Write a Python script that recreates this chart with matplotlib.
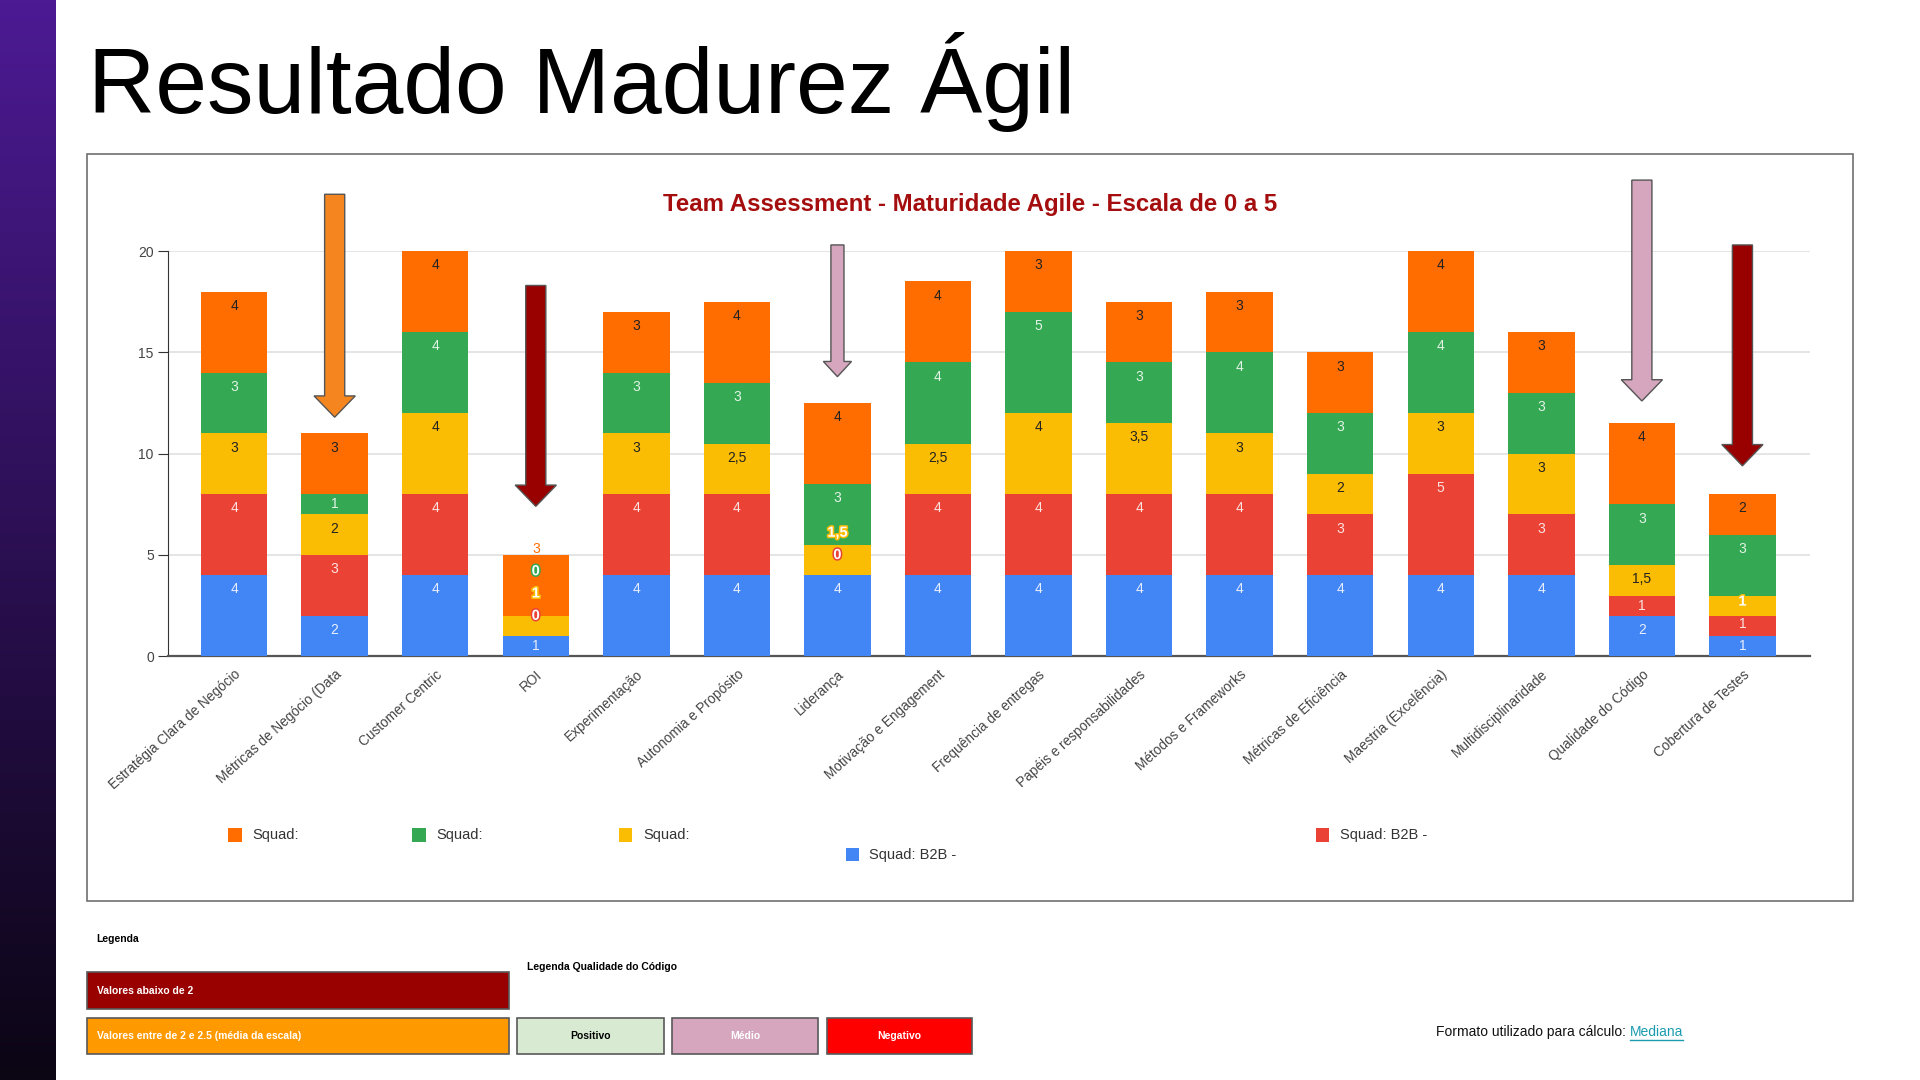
import numpy as np
import matplotlib
matplotlib.use("Agg")
import matplotlib.pyplot as plt
import matplotlib.patheffects as pe
from matplotlib.patches import Rectangle, FancyArrow

plt.rcParams['font.family'] = ['Liberation Sans', 'DejaVu Sans']

# ---- data ----
categories = ["Estratégia Clara de Negócio", "Métricas de Negócio (Data", "Customer Centric", "ROI",
              "Experimentação", "Autonomia e Propósito", "Liderança", "Motivação e Engagement",
              "Frequência de entregas", "Papéis e responsabilidades", "Métodos e Frameworks",
              "Métricas de Eficiência", "Maestria (Excelência)", "Multidisciplinaridade",
              "Qualidade do Código", "Cobertura de Testes"]

blue_vals = [4, 2, 4, 1, 4, 4, 4, 4, 4, 4, 4, 4, 4, 4, 2, 1]
red_vals = [4, 3, 4, 0, 4, 4, 0, 4, 4, 4, 4, 3, 5, 3, 1, 1]
yellow_vals = [3, 2, 4, 1, 3, 2.5, 1.5, 2.5, 4, 3.5, 3, 2, 3, 3, 1.5, 1]
green_vals = [3, 1, 4, 0, 3, 3, 3, 4, 5, 3, 4, 3, 4, 3, 3, 3]
orange_vals = [4, 3, 4, 3, 3, 4, 4, 4, 3, 3, 3, 3, 4, 3, 4, 2]

# stacking order bottom -> top
series = [
    ("Squad: B2B -", blue_vals, "#4285f4", "#e8eefc"),
    ("Squad: B2B -", red_vals, "#ea4335", "#fbe3e1"),
    ("Squad:", yellow_vals, "#fbbc04", "#222222"),
    ("Squad:", green_vals, "#34a853", "#e3f3e7"),
    ("Squad:", orange_vals, "#ff6d01", "#222222"),
]

# arrows over bars (bar index, top value, tip value, colour)
arrow_bars = [1, 3, 6, 14, 15]
arrow_tops = [22.8, 18.3, 20.3, 23.5, 20.3]
arrow_tips = [11.8, 7.4, 13.8, 12.6, 9.4]
arrow_colors = ["#f5861f", "#990000", "#d5a6bd", "#d5a6bd", "#990000"]

W, H = 1568.0, 882.0


def fx(x):
    return x / W


def fy(y):
    return 1 - y / H


fig = plt.figure(figsize=(19.2, 10.8), dpi=100)
fig.patch.set_facecolor("white")

# left gradient strip
strip = fig.add_axes([0, 0, fx(45), 1])
grad = np.linspace(0, 1, 256).reshape(-1, 1)
c_top = np.array([0x4c, 0x1a, 0x93]) / 255
c_bot = np.array([0x0b, 0x05, 0x14]) / 255
img = c_top[None, None, :] * (1 - grad[:, :, None]) + c_bot[None, None, :] * grad[:, :, None]
strip.imshow(img, aspect="auto", extent=[0, 1, 0, 1])
strip.axis("off")

# slide title
fig.text(fx(72), fy(92), "Resultado Madurez Ágil", fontsize=67, color="black", ha="left", va="baseline")

# chart frame
fig.patches.append(Rectangle((fx(71), fy(736)), fx(1513) - fx(71), fy(126) - fy(736),
                             transform=fig.transFigure, facecolor="white", edgecolor="#707070", lw=1.2,
                             zorder=-5))

ax = fig.add_axes([fx(137), fy(536), fx(1478) - fx(137), fy(205) - fy(536)])
ax.set_zorder(2)
ax.set_facecolor("none")
x = np.arange(len(categories))
totals = np.sum([s[1] for s in series], axis=0)
bottom = np.zeros(len(categories))
label_y_prev = np.full(len(categories), -10.0)
gap = 1.1
for name, vals, color, tcolor in series:
    vals = np.array(vals, dtype=float)
    ax.bar(x, vals, bottom=bottom, width=0.66, color=color, zorder=3, linewidth=0)
    tops = bottom + vals
    for i, v in enumerate(vals):
        # google-style label near top of segment, pushed up when labels collide
        ideal = tops[i] + 1.0 if v == 0 else tops[i] - min(0.7, v / 2)
        ypos = max(ideal, label_y_prev[i] + gap)
        txt = f"{v:g}".replace(".", ",")
        if ypos > totals[i]:
            ax.text(x[i], ypos, txt, ha="center", va="center", fontsize=10, color=color,
                    zorder=5, clip_on=False)
        elif v == 0 or ypos > ideal + 0.15:
            ax.text(x[i], ypos, txt, ha="center", va="center", fontsize=10.5, color="white",
                    fontweight="bold", zorder=5, clip_on=False,
                    path_effects=[pe.withStroke(linewidth=2.2, foreground=color)])
        else:
            ax.text(x[i], ypos, txt, ha="center", va="center", fontsize=10, color=tcolor, zorder=5)
        label_y_prev[i] = ypos
    bottom = tops

ax.set_xlim(-0.66, 15.67)
ax.set_ylim(0, 20)
ax.set_yticks([0, 5, 10, 15, 20])
ax.yaxis.grid(True, color="#e0e0e0", lw=1.2, zorder=0)
ax.set_axisbelow(True)
for s in ["top", "right"]:
    ax.spines[s].set_visible(False)
ax.spines["left"].set_color("#333333")
ax.spines["bottom"].set_color("#555555")
ax.spines["bottom"].set_linewidth(1.6)
ax.tick_params(axis="y", length=7, color="#333333", labelsize=10, labelcolor="#444444", pad=3)
ax.tick_params(axis="x", length=0, pad=8)
ax.set_xticks(x)
ax.set_xticklabels(categories, rotation=42, ha="right", va="top", rotation_mode="anchor",
                   fontsize=9.8, color="#444444")

# chart title
fig.text(fx(792), fy(167), "Team Assessment - Maturidade Agile - Escala de 0 a 5",
         ha="center", va="center", fontsize=17.3, fontweight="bold", color="#a50e0e")

# arrows
for b, top, tip, col in zip(arrow_bars, arrow_tops, arrow_tips, arrow_colors):
    thin = b == 6
    w = 0.13 if thin else 0.2
    hw = 0.28 if thin else 0.41
    hl = 0.75 if thin else 1.05
    ax.add_patch(FancyArrow(b, top, 0, tip - top, width=w, head_width=hw, head_length=hl,
                            length_includes_head=True, facecolor=col, edgecolor="#555555",
                            lw=1, zorder=6, clip_on=False))

# legend
legend_pos = [(192, 682), (342, 682), (511, 682), (696, 698), (1080, 682)]
legend_order = [4, 3, 2, 0, 1]
for (lx, ly), si in zip(legend_pos, legend_order):
    name, _, color, _ = series[si]
    fig.patches.append(Rectangle((fx(lx - 5.5), fy(ly + 5.5)), fx(11), 11 / H, transform=fig.transFigure,
                                 facecolor=color, edgecolor="none"))
    fig.text(fx(lx + 14), fy(ly), name, fontsize=10.5, color="#333333", ha="left", va="center")

# bottom legend
fig.text(fx(79), fy(767), "Legenda", fontsize=7.5, fontweight="bold", ha="left", va="center")
fig.text(fx(430), fy(790), "Legenda Qualidade do Código", fontsize=7.5, fontweight="bold",
         ha="left", va="center")
boxes = [
    (71, 794, 416, 824, "#990000", "Valores abaixo de 2", "white", "left"),
    (71, 831, 416, 861, "#ff9900", "Valores entre de 2 e 2.5 (média da escala)", "white", "left"),
    (422, 831, 542, 861, "#d9ead3", "Positivo", "black", "center"),
    (549, 831, 668, 861, "#d5a6bd", "Médio", "white", "center"),
    (675, 831, 794, 861, "#ff0000", "Negativo", "white", "center"),
]
for x0, y0, x1, y1, col, txt, tc, al in boxes:
    fig.patches.append(Rectangle((fx(x0), fy(y1)), fx(x1) - fx(x0), fy(y0) - fy(y1),
                                 transform=fig.transFigure, facecolor=col, edgecolor="#595959", lw=1.2))
    tx = fx(x0 + 8) if al == "left" else fx((x0 + x1) / 2)
    fig.text(tx, fy((y0 + y1) / 2), txt, fontsize=7.5, fontweight="bold", color=tc, ha=al, va="center")

t1 = fig.text(fx(1173), fy(843), "Formato utilizado para cálculo: ", fontsize=10, color="#111111",
              ha="left", va="center")
fig.canvas.draw()
bb = t1.get_window_extent()
x_link = bb.x1 / fig.bbox.width
link = fig.text(x_link, fy(843), "Mediana", fontsize=10, color="#1a9bb0", ha="left", va="center")
fig.canvas.draw()
lb = link.get_window_extent()
fig.add_artist(plt.Line2D([lb.x0 / fig.bbox.width, lb.x1 / fig.bbox.width],
                          [(lb.y0 - 1) / fig.bbox.height] * 2, color="#1a9bb0", lw=1,
                          transform=fig.transFigure))

fig.savefig("out.png", dpi=100)
